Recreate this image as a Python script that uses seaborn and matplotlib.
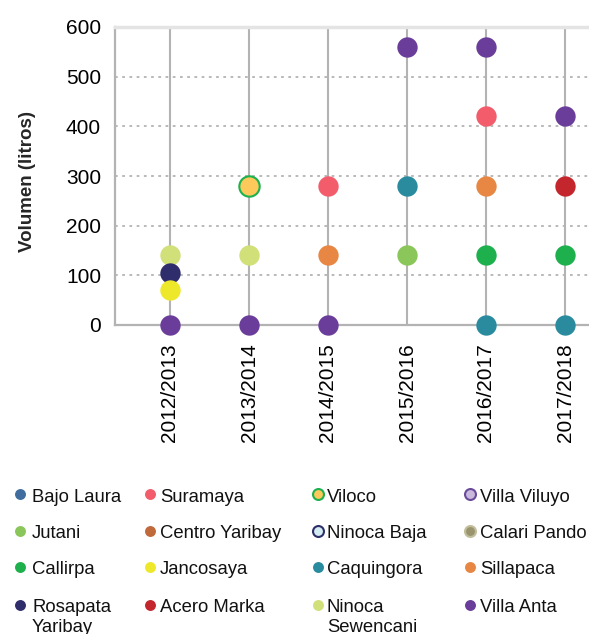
import matplotlib
matplotlib.use("Agg")
import matplotlib.pyplot as plt
import seaborn as sns
import pandas as pd

# ---------------- data ----------------
years = ["2012/2013", "2013/2014", "2014/2015", "2015/2016", "2016/2017", "2017/2018"]

series_names = ["Bajo Laura", "Suramaya", "Viloco", "Villa Viluyo",
                "Jutani", "Centro Yaribay", "Ninoca Baja", "Calari Pando",
                "Callirpa", "Jancosaya", "Caquingora", "Sillapaca",
                "Rosapata\nYaribay", "Acero Marka", "Ninoca\nSewencani", "Villa Anta"]

bajo_laura       = [None, None, None, None, None, None]
suramaya         = [None, None, 280, None, 420, None]
viloco           = [None, 280, None, None, None, None]
villa_viluyo     = [None, None, None, None, None, None]
jutani           = [None, None, None, 140, None, None]
centro_yaribay   = [None, None, None, None, None, None]
ninoca_baja      = [None, None, None, None, None, None]
calari_pando     = [None, None, None, None, None, None]
callirpa         = [None, None, None, None, 140, 140]
jancosaya        = [70, None, None, None, None, None]
caquingora       = [None, None, None, 280, 0, 0]
sillapaca        = [None, None, 140, None, 280, None]
rosapata_yaribay = [105, None, None, None, None, None]
acero_marka      = [None, None, None, None, None, 280]
ninoca_sewencani = [140, 140, None, None, None, None]
villa_anta       = [0, 0, 0, 560, 560, 420]

series_values = [bajo_laura, suramaya, viloco, villa_viluyo,
                 jutani, centro_yaribay, ninoca_baja, calari_pando,
                 callirpa, jancosaya, caquingora, sillapaca,
                 rosapata_yaribay, acero_marka, ninoca_sewencani, villa_anta]

fill_colors = ["#3f6e9e", "#f25c6b", "#fcc95a", "#c9b9dd",
               "#8bc65a", "#c06a3c", "#d3ecf2", "#9a946e",
               "#1fb04e", "#eee82a", "#2a8a9e", "#e88744",
               "#2f2d6b", "#c4262e", "#d2e07a", "#6a3d9a"]
edge_colors = ["#3f6e9e", "#f25c6b", "#1db14f", "#6a4a9a",
               "#8bc65a", "#c06a3c", "#2d2e6a", "#c2bd9b",
               "#1fb04e", "#eee82a", "#2a8a9e", "#e88744",
               "#2f2d6b", "#c4262e", "#d2e07a", "#6a3d9a"]

y_ticks = [0, 100, 200, 300, 400, 500, 600]
y_label = "Volumen (litros)"

# ---------------- figure ----------------
sns.set_style("white")
plt.rcParams["font.family"] = ["Liberation Sans", "DejaVu Sans"]

W, H = 589, 634
fig = plt.figure(figsize=(W / 100, H / 100), dpi=100)
ax = fig.add_axes([115 / W, (H - 325) / H, 474 / W, 298 / H])

grid_col = "#b3b3b3"

n = len(series_names)
for i in reversed(range(n)):
    vals = series_values[i]
    xs = [j for j, v in enumerate(vals) if v is not None]
    ys = [v for v in vals if v is not None]
    if not xs:
        continue
    df = pd.DataFrame({"x": xs, "y": ys})
    lw = 1.5 if edge_colors[i] != fill_colors[i] else 0
    sns.scatterplot(data=df, x="x", y="y", ax=ax, color=fill_colors[i],
                    edgecolor=edge_colors[i], linewidth=lw, s=215,
                    zorder=3 + (n - i) * 0.01, legend=False)

for coll in ax.collections:
    coll.set_clip_on(False)

ax.set_xlim((115 - 170) / 79, (589 - 170) / 79)
ax.set_ylim(0, 600)
ax.set_xticks(range(len(years)))
ax.set_xticklabels(years, rotation=90, fontsize=15)
ax.set_yticks(y_ticks)
ax.set_yticklabels([str(t) for t in y_ticks], fontsize=15)
ax.tick_params(axis="x", length=0, pad=13, colors="black")
ax.tick_params(axis="y", length=7, width=1.3, color=grid_col, pad=3, labelcolor="black")
ax.set_xlabel("")
ax.set_ylabel(y_label, fontsize=13.5, fontweight="bold")
ax.yaxis.set_label_coords(-0.166, 0.48)

# grid
ax.set_axisbelow(True)
ax.xaxis.grid(True, color=grid_col, linestyle="-", linewidth=1.5)
ax.yaxis.grid(True, color=grid_col, linestyle=(0, (1.5, 2.5)), linewidth=1.3)

for side in ["left", "bottom"]:
    ax.spines[side].set_color(grid_col)
    ax.spines[side].set_linewidth(1.6)
ax.spines["top"].set_color("#e4e4e4")
ax.spines["top"].set_linewidth(2.5)
ax.spines["right"].set_visible(False)

# ---------------- legend (manual, pixel coords) ----------------
lax = fig.add_axes([0, 0, 1, 1], facecolor="none")
lax.set_xlim(0, W)
lax.set_ylim(H, 0)
lax.axis("off")

marker_x = [20, 150, 318, 470]
text_x = [32, 160, 327, 480]
row_y = [495, 532, 568, 606]
for i, name in enumerate(series_names):
    c, r = i % 4, i // 4
    lw = 1.5 if edge_colors[i] != fill_colors[i] else 0
    lax.scatter([marker_x[c]], [row_y[r] - 1], s=62, color=fill_colors[i],
                edgecolors=edge_colors[i], linewidths=lw, clip_on=False)
    for k, line in enumerate(name.split("\n")):
        lax.text(text_x[c], row_y[r] + 6.5 + k * 19, line, fontsize=13.3,
                 va="baseline", ha="left", color="#111111")

fig.savefig("out.png", dpi=100)
